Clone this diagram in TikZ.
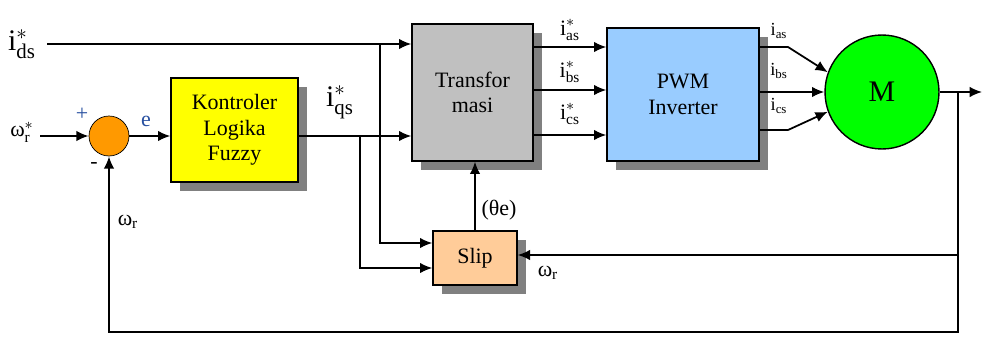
\documentclass[tikz,border=0pt]{standalone}
\usepackage{amsmath}
\usepackage{fontspec}
\setmainfont{Liberation Serif}
\usepackage{xcolor}
\usetikzlibrary{arrows.meta, shadows, positioning}

\definecolor{shadowgray}{RGB}{128,128,128}
\definecolor{fuzzyyellow}{RGB}{255,255,0}
\definecolor{transgray}{RGB}{192,192,192}
\definecolor{pwmblue}{RGB}{153,204,255}
\definecolor{sliporange}{RGB}{255,204,153}
\definecolor{sumorange}{RGB}{255,153,0}
\definecolor{motorgreen}{RGB}{0,255,0}
\definecolor{signblue}{RGB}{40,80,160}

\begin{document}
\begin{tikzpicture}[x=0.02cm, y=-0.02cm,
    block/.style={rectangle, draw, line width=0.8pt, align=center, font=\fontsize{12.5}{14.5}\selectfont,
        drop shadow={shadow xshift=0.18cm, shadow yshift=-0.18cm, fill=shadowgray, opacity=1}},
    arrow/.style={-{Latex[length=7pt, width=6pt]}, line width=1pt},
    lbl/.style={font=\fontsize{12.5}{14}\selectfont, inner sep=1pt},
    biglbl/.style={font=\fontsize{17}{19}\selectfont, inner sep=1pt},
    sublbl/.style={font=\fontsize{10.5}{12}\selectfont, inner sep=1pt}
]
\useasboundingbox (0,0) rectangle (986,338);

% Main blocks
\node[circle, draw, fill=sumorange, minimum size=0.8cm, inner sep=0pt] (sum) at (109,136) {};
\node[block, fill=fuzzyyellow, minimum width=2.54cm, minimum height=2.08cm] (fuzzy) at (234.5,130) {Kontroler\\Logika\\Fuzzy};
\node[block, fill=transgray, minimum width=2.42cm, minimum height=2.74cm] (trans) at (472.5,92.5) {Transfor\\masi};
\node[block, fill=pwmblue, minimum width=3.04cm, minimum height=2.66cm] (pwm) at (683,94.5) {PWM\\Inverter};
\node[block, fill=sliporange, minimum width=1.68cm, minimum height=1.08cm] (slip) at (475,258) {Slip};
\node[circle, draw, line width=0.8pt, fill=motorgreen, minimum size=2.28cm, font=\fontsize{17}{20}\selectfont] (motor) at (882,92) {M};

% Signal names
\node[biglbl] (lids) at (22,44) {$\text{i}^{*}_{\text{ds}}$};
\node[lbl] (lwref) at (22,132) {$\text{ω}^{*}_{\text{r}}$};
\node[lbl, text=signblue] (lplus) at (82,114) {+};
\node[lbl] (lminus) at (94,165) {-};
\node[lbl, text=signblue] (le) at (146,121) {e};
\node[biglbl] (liqs) at (340,102) {$\text{i}^{*}_{\text{qs}}$};
\node[lbl] (lias) at (570,30) {$\text{i}^{*}_{\text{as}}$};
\node[lbl] (libs) at (570,72) {$\text{i}^{*}_{\text{bs}}$};
\node[lbl] (lics) at (570,114) {$\text{i}^{*}_{\text{cs}}$};
\node[sublbl] (las) at (779,31) {$\text{i}_{\text{as}}$};
\node[sublbl] (lbs) at (779,71) {$\text{i}_{\text{bs}}$};
\node[sublbl] (lcs) at (779,106) {$\text{i}_{\text{cs}}$};
\node[lbl] (ltheta) at (499,210) {(θe)};
\node[lbl] (lwfb) at (128,222) {$\text{ω}_{\text{r}}$};
\node[lbl] (lwslip) at (548,273) {$\text{ω}_{\text{r}}$};

% Branch points
\coordinate (ids) at (47,44);
\coordinate (wref) at (40,136);
\coordinate (jd) at (380,44);
\coordinate (jq) at (360,136);
\coordinate (jm) at (958,92);
\coordinate (jw) at (958,255);
\coordinate (jb) at (958,332);
\coordinate (out) at (982,92);

% Connections
\draw[arrow] (ids) -- (ids -| trans.west);
\draw[arrow] (wref) -- (sum.west);
\draw[arrow] (sum.east) -- (sum.east -| fuzzy.west);
\draw[arrow] (fuzzy.east |- sum) -- (trans.west |- sum);
\draw[arrow] (jd) |- (slip.west |- 0,243);
\draw[arrow] (jq) |- (slip.west |- 0,268);
\draw[arrow] (slip.north) -- (slip.north |- trans.south);

\foreach \y in {47,90,135}
    \draw[arrow] (trans.east |- 0,\y) -- (pwm.west |- 0,\y);

\draw[arrow] (pwm.east |- 0,47) -- (788,47) -- (motor.160);
\draw[arrow] (pwm.east |- motor.west) -- (motor.west);
\draw[arrow] (pwm.east |- 0,130) -- (788,130) -- (motor.200);

\draw[arrow] (motor.east) -- (out);
\draw[arrow] (jm) -- (jb) -| (sum.south);
\draw[arrow] (jw) -- (jw -| slip.east);

\end{tikzpicture}
\end{document}
